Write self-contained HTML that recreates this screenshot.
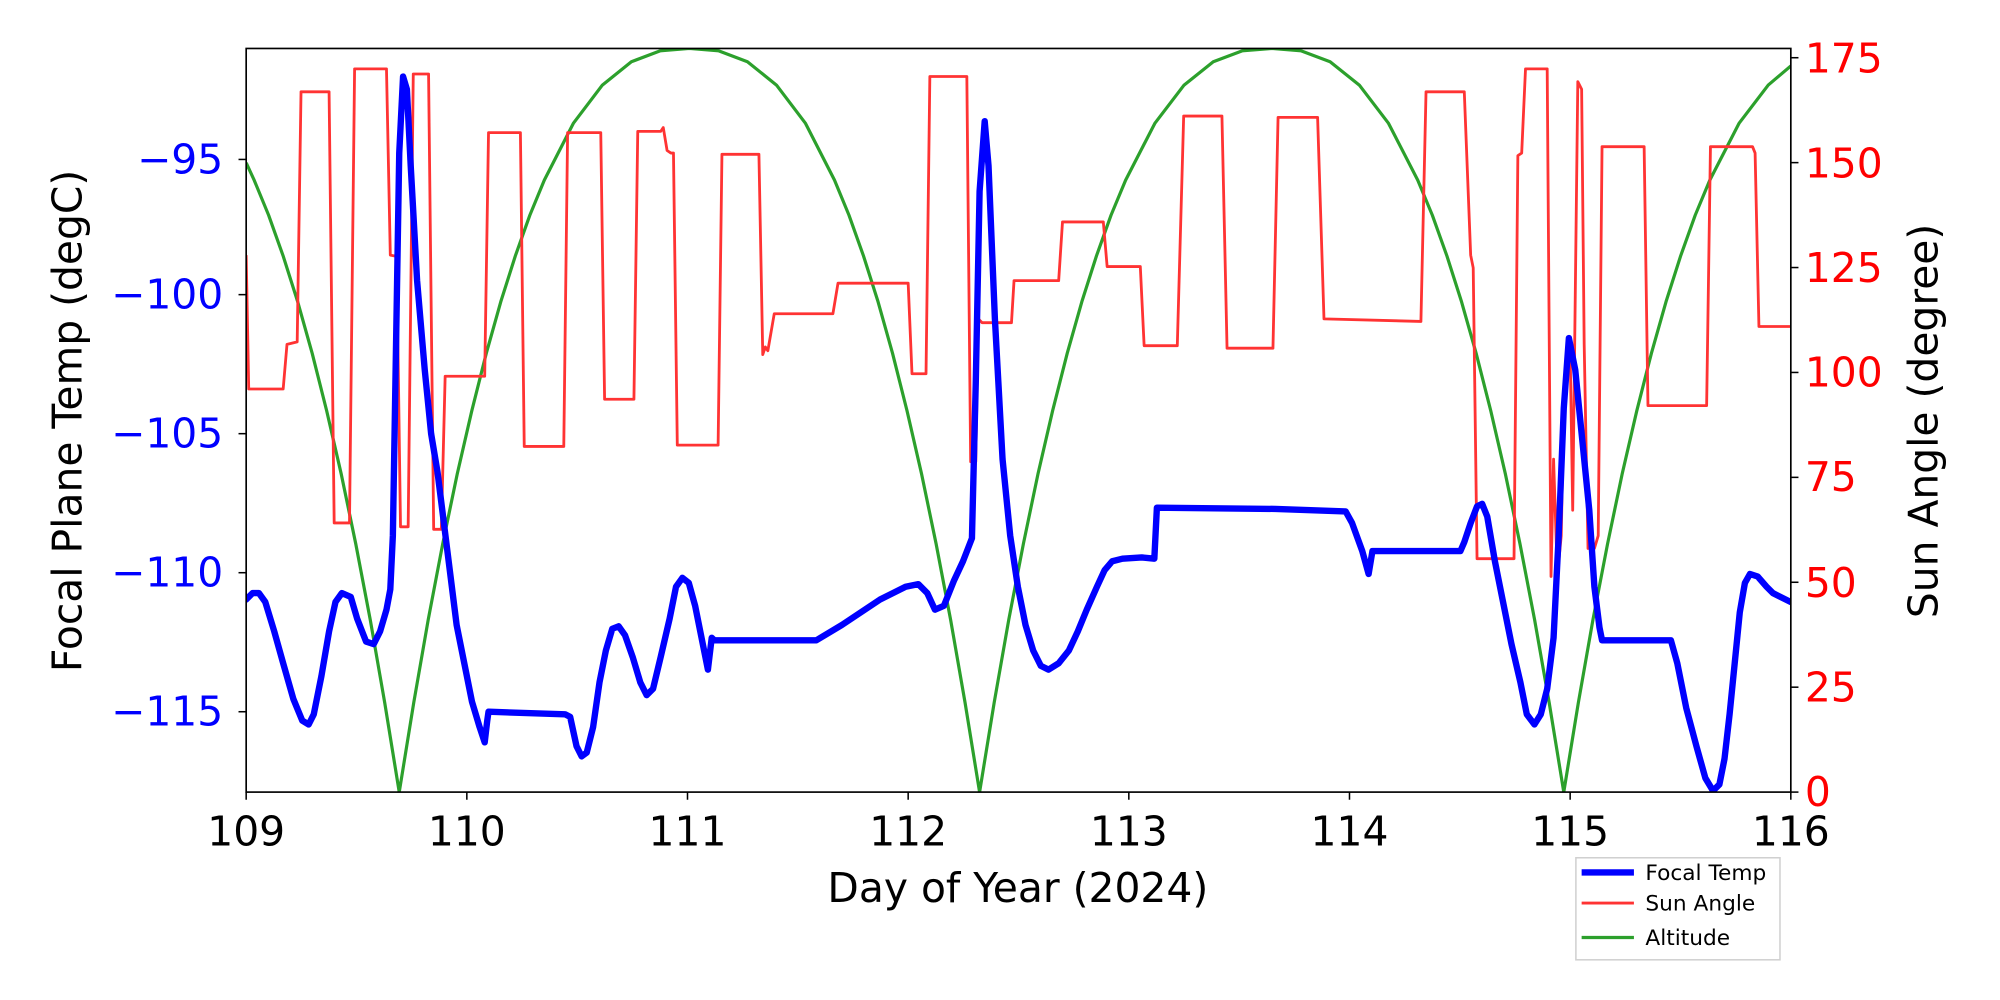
<!DOCTYPE html>
<html><head><meta charset="utf-8"><style>
html,body{margin:0;padding:0;background:#fff;}
svg{display:block;}
text{font-family:"DejaVu Sans","Liberation Sans",sans-serif;}
</style></head><body>
<svg width="2000" height="1000" viewBox="0 0 1568 784" xmlns="http://www.w3.org/2000/svg">
<rect width="1568" height="784" fill="#fff"/>
<defs><clipPath id="c"><rect x="193" y="38" width="1211" height="583"/></clipPath></defs>
<g clip-path="url(#c)">
<path fill="none" stroke="#2ca02c" stroke-width="2.5" stroke-linejoin="round" d="M193,127.6 L199.25,141.2 L210.6,168.7 L222,200.7 L233.4,236.6 L244.75,277 L256.1,322 L267.5,371.5 L278.9,426.3 L290.25,485.7 L301.6,550.8 L313,621 L324.4,550.8 L335.75,485.7 L347.1,426.3 L358.5,371.5 L369.9,322 L381.25,277 L392.6,236.6 L404,200.7 L415.4,168.7 L426.75,141.2 L449.5,96.7 L472.25,66.7 L495,48.4 L517.75,39.8 L540.5,38 L563.25,39.8 L586,48.4 L608.75,66.7 L631.5,96.7 L654.25,141.2 L665.6,168.7 L677,200.7 L688.4,236.6 L699.75,277 L711.1,322 L722.5,371.5 L733.9,426.3 L745.25,485.7 L756.6,550.8 L768,621 L779.45,550.8 L790.9,485.7 L802.35,426.3 L813.8,371.5 L825.25,322 L836.7,277 L848.15,236.6 L859.6,200.7 L871.05,168.7 L882.5,141.2 L905.4,96.7 L928.3,66.7 L951.2,48.4 L974.1,39.8 L997,38 L1019.9,39.8 L1042.8,48.4 L1065.7,66.7 L1088.6,96.7 L1111.5,141.2 L1122.95,168.7 L1134.4,200.7 L1145.85,236.6 L1157.3,277 L1168.75,322 L1180.2,371.5 L1191.65,426.3 L1203.1,485.7 L1214.55,550.8 L1226,621 L1237.45,550.8 L1248.9,485.7 L1260.35,426.3 L1271.8,371.5 L1283.25,322 L1294.7,277 L1306.15,236.6 L1317.6,200.7 L1329.05,168.7 L1340.5,141.2 L1363.4,96.7 L1386.3,66.7 L1404,51.7"/>
<path fill="none" stroke="#ff3333" stroke-width="2.2" stroke-linejoin="round" d="M193,200 L195,305 L222,305 L225,270 L233,268 L236,72 L258,72 L262,410 L274,410 L278,54 L303,54 L306,200 L311,201 L314,413 L320,413 L324,58 L336,58 L340,415 L346,415 L349,295 L380,295 L383,104 L408,104 L411,350 L442,350 L445,104 L471,104 L474,313 L497,313 L500,103 L518,103 L520,100 L523,118 L526,120 L528,120 L531,349 L563,349 L566,121 L595,121 L598,278 L600,272 L602,275 L607,246 L653,246 L657,222 L712,222 L715,293 L726,293 L729,60 L758,60 L761,362 L763,355 L765,362 L767,250 L770,253 L793,253 L795,220 L830,220 L833,174 L865,174 L868,209 L894,209 L897,271 L923,271 L928,91 L958,91 L962,273 L998,273 L1002,92 L1033,92 L1038,250 L1114,252 L1118,72 L1148,72 L1153,200 L1155,210 L1158,438 L1187,438 L1190,122 L1193,120 L1196,54 L1213,54 L1216,452 L1218,360 L1221,452 L1224,420 L1226,320 L1231,275 L1233,400 L1237,64 L1240,70 L1242,270 L1245,430 L1248,425 L1250,430 L1253,420 L1256,115 L1289,115 L1292,318 L1338,318 L1341,115 L1374,115 L1376,120 L1379,256 L1404,256"/>
<path fill="none" stroke="#0000ff" stroke-width="5" stroke-linejoin="round" stroke-linecap="round" d="M193,470 L198,465 L203,465 L208,472 L215,495 L222,520 L230,548 L237,565 L242,568 L246,560 L252,530 L258,495 L263,472 L268,465 L275,468 L280,485 L287,503 L293,505 L298,495 L303,478 L306,462 L308,420 L310,300 L313,120 L316,60 L319,70 L322,130 L327,220 L333,290 L338,340 L343,370 L348,410 L353,450 L358,490 L364,520 L370,550 L376,570 L380,582 L382,565 L383,558 L443,560 L447,562 L452,585 L456,593 L460,590 L465,570 L470,535 L475,510 L480,493 L485,491 L490,498 L496,515 L502,535 L507,545 L512,540 L518,515 L525,485 L530,460 L535,453 L540,457 L545,475 L550,500 L555,525 L558,500 L560,502 L640,502 L660,490 L690,470 L710,460 L720,458 L727,465 L733,478 L740,475 L748,455 L755,440 L762,422 L765,300 L768,150 L772,95 L775,130 L780,250 L786,360 L792,420 L798,460 L804,490 L810,510 L816,522 L822,525 L830,520 L838,510 L845,495 L852,478 L860,460 L866,447 L872,440 L880,438 L895,437 L905,438 L907,398 L1000,399 L1055,401 L1060,410 L1068,432 L1073,450 L1076,432 L1145,432 L1148,425 L1153,410 L1158,397 L1162,395 L1166,405 L1172,440 L1178,470 L1185,505 L1192,535 L1197,560 L1203,568 L1208,560 L1213,540 L1218,500 L1222,420 L1226,320 L1230,265 L1235,290 L1240,340 L1246,400 L1250,460 L1254,492 L1256,502 L1310,502 L1315,520 L1322,555 L1330,585 L1337,610 L1343,620 L1348,615 L1352,595 L1356,560 L1360,520 L1364,480 L1368,457 L1372,450 L1378,452 L1385,460 L1390,465 L1404,472"/>
</g>
<rect x="193" y="38" width="1211" height="583" fill="none" stroke="#000" stroke-width="1.3"/>
<g stroke="#000" stroke-width="1.2">
<line x1="193" y1="621" x2="193" y2="627"/><line x1="366" y1="621" x2="366" y2="627"/><line x1="539" y1="621" x2="539" y2="627"/><line x1="712" y1="621" x2="712" y2="627"/><line x1="885" y1="621" x2="885" y2="627"/><line x1="1058" y1="621" x2="1058" y2="627"/><line x1="1231" y1="621" x2="1231" y2="627"/><line x1="1404" y1="621" x2="1404" y2="627"/>
<line x1="187" y1="125" x2="193" y2="125"/><line x1="187" y1="231" x2="193" y2="231"/><line x1="187" y1="340" x2="193" y2="340"/><line x1="187" y1="449" x2="193" y2="449"/><line x1="187" y1="558" x2="193" y2="558"/>
<line x1="1404" y1="621" x2="1410" y2="621"/><line x1="1404" y1="538.75" x2="1410" y2="538.75"/><line x1="1404" y1="456.5" x2="1410" y2="456.5"/><line x1="1404" y1="374.25" x2="1410" y2="374.25"/><line x1="1404" y1="292" x2="1410" y2="292"/><line x1="1404" y1="209.75" x2="1410" y2="209.75"/><line x1="1404" y1="127.5" x2="1410" y2="127.5"/><line x1="1404" y1="45.25" x2="1410" y2="45.25"/>
</g>
<g font-size="32" text-anchor="middle" fill="#000">
<text x="193" y="663">109</text><text x="366" y="663">110</text><text x="539" y="663">111</text><text x="712" y="663">112</text><text x="885" y="663">113</text><text x="1058" y="663">114</text><text x="1231" y="663">115</text><text x="1404" y="663">116</text>
<text x="798" y="707">Day of Year (2024)</text>
</g>
<g font-size="32" text-anchor="end" fill="#0000ff">
<text x="175" y="136">−95</text><text x="175" y="242">−100</text><text x="175" y="351">−105</text><text x="175" y="460">−110</text><text x="175" y="569">−115</text>
</g>
<g font-size="32" text-anchor="start" fill="#ff0000">
<text x="1415" y="632">0</text><text x="1415" y="550">25</text><text x="1415" y="468">50</text><text x="1415" y="385">75</text><text x="1415" y="303">100</text><text x="1415" y="221">125</text><text x="1415" y="139">150</text><text x="1415" y="57">175</text>
</g>
<text font-size="32" text-anchor="middle" transform="translate(64,330) rotate(-90)">Focal Plane Temp (degC)</text>
<text font-size="32" text-anchor="middle" transform="translate(1519,330) rotate(-90)">Sun Angle (degree)</text>
<rect x="1235.5" y="672.5" width="160" height="80" fill="#fff" stroke="#d0d0d0" stroke-width="1.2"/>
<line x1="1240" y1="684" x2="1281" y2="684" stroke="#0000ff" stroke-width="5"/>
<line x1="1240" y1="708" x2="1281" y2="708" stroke="#ff3333" stroke-width="2.2"/>
<line x1="1240" y1="735" x2="1281" y2="735" stroke="#2ca02c" stroke-width="2.5"/>
<g font-size="17" fill="#000"><text x="1290" y="690">Focal Temp</text><text x="1290" y="714">Sun Angle</text><text x="1290" y="741">Altitude</text></g>
</svg>
</body></html>
